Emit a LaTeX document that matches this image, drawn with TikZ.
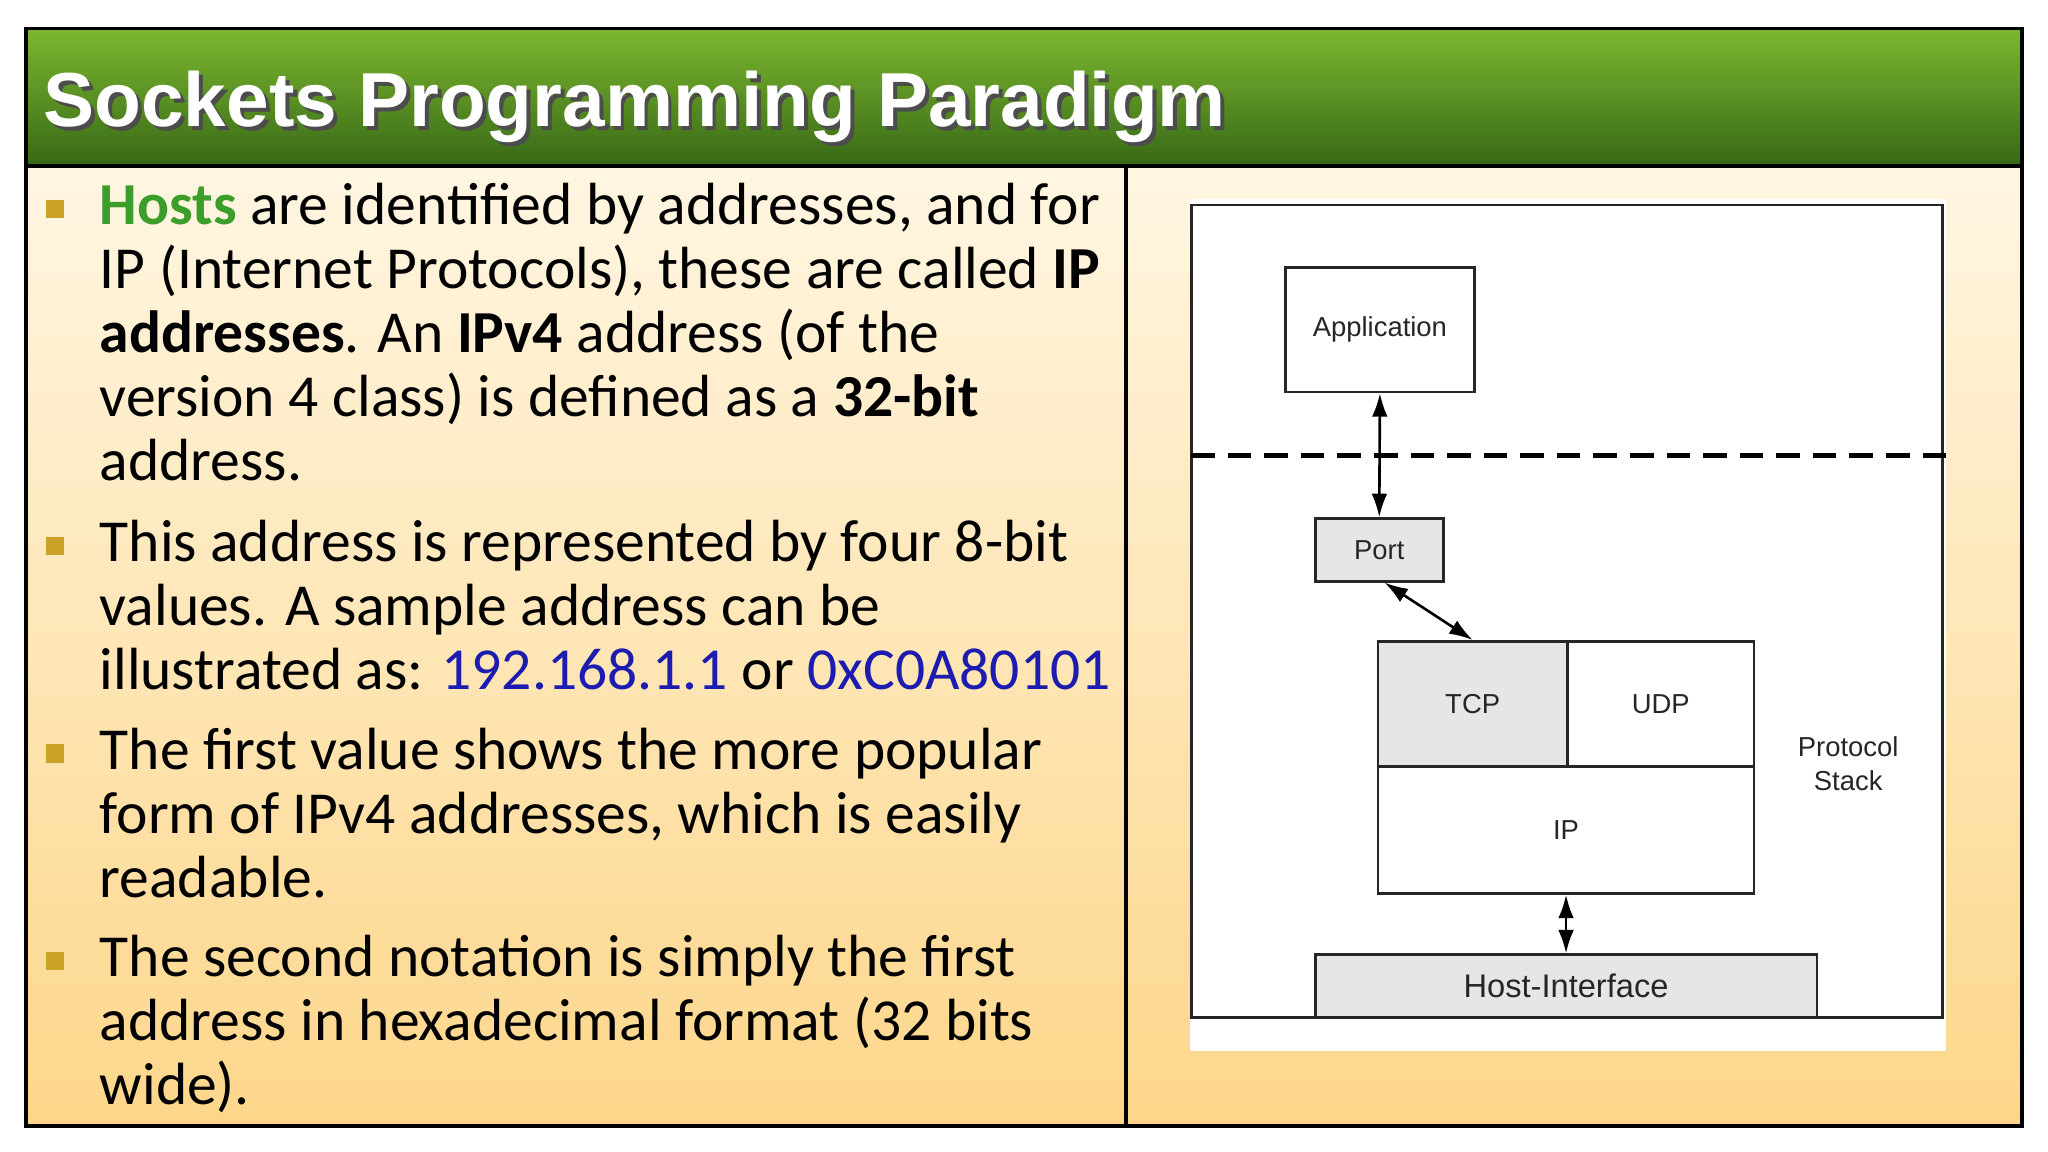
\documentclass[tikz,border=0pt]{standalone}
\usepackage{fontspec}
\setmainfont{Carlito}
\newfontfamily\arialf{Liberation Sans}
\usetikzlibrary{arrows.meta}
\definecolor{hgreen}{HTML}{3C9E2A}
\definecolor{hblue}{HTML}{1C1CB0}
\definecolor{bulc}{HTML}{C9A227}
\definecolor{boxg}{HTML}{E6E6E8}
\tikzset{
 txt/.style={anchor=base west,inner sep=0pt,font=\fontsize{22.8}{26}\selectfont},
 bul/.style={fill=bulc,minimum size=7pt,inner sep=0pt},
 dbox/.style={draw=black!85,line width=1pt},
 lab/.style={font=\arialf\fontsize{10.5}{12}\selectfont,text=black!85},
 arr/.style={{Latex[length=9pt,width=6pt]}-{Latex[length=9pt,width=6pt]},line width=1pt}
}
\begin{document}
\begin{tikzpicture}[x=0.5pt,y=-0.5pt]
\useasboundingbox (0,0) rectangle (1568,882);
\fill[white] (0,0) rectangle (1568,882);
% title bar
\shade[top color={rgb,255:red,124;green,184;blue,48},bottom color={rgb,255:red,56;green,104;blue,22}] (20,22) rectangle (1548,127);
\shade[top color={rgb,255:red,255;green,246;blue,226},bottom color={rgb,255:red,253;green,214;blue,138}] (20,127) rectangle (1548,862);
\draw[line width=1.3pt] (20,22) rectangle (1548,862);
\draw[line width=1.3pt] (20,127) -- (1548,127);
\draw[line width=1.3pt] (862,127) -- (862,862);
\node[anchor=base west,inner sep=0pt,font=\arialf\bfseries\fontsize{29.3}{32}\selectfont,text=black!70] (tsh) at (36,100) {Sockets Programming Paradigm};
\node[anchor=base west,inner sep=0pt,font=\arialf\bfseries\fontsize{29.3}{32}\selectfont,text=white] (title) at (33,97) {Sockets Programming Paradigm};
% bullets
\node[bul] (b1) at (42,160) {};
\node[bul] (b2) at (42,418) {};
\node[bul] (b3) at (42,577) {};
\node[bul] (b4) at (42,736) {};
\node[txt] (l1) at (76,172) {\textcolor{hgreen}{\textbf{Hosts}} are identified by addresses, and for};
\node[txt] (l2) at (76,221) {IP (Internet Protocols), these are called \textbf{IP}};
\node[txt] (l3) at (76,270) {\textbf{addresses}. An \textbf{IPv4} address (of the};
\node[txt] (l4) at (76,319) {version 4 class) is defined as a \textbf{32-bit}};
\node[txt] (l5) at (76,368) {address.};
\node[txt] (l6) at (76,430) {This address is represented by four 8-bit};
\node[txt] (l7) at (76,479) {values. A sample address can be};
\node[txt] (l8) at (76,528) {illustrated as: \textcolor{hblue}{192.168.1.1} or \textcolor{hblue}{0xC0A80101}};
\node[txt] (l9) at (76,589) {The first value shows the more popular};
\node[txt] (l10) at (76,638) {form of IPv4 addresses, which is easily};
\node[txt] (l11) at (76,687) {readable.};
\node[txt] (l12) at (76,748) {The second notation is simply the first};
\node[txt] (l13) at (76,797) {address in hexadecimal format (32 bits};
\node[txt] (l14) at (76,846) {wide).};
% diagram
\fill[white] (911,152) rectangle (1490,805);
\draw[dbox] (912,157) rectangle (1487,779);
\draw[line width=2pt,dash pattern=on 9pt off 5pt] (912,349) -- (1490,349);
\node[dbox,fill=white,minimum width=72.5pt,minimum height=47.5pt,lab] (app) at (1056.5,252.5) {Application};
\node[dbox,fill=boxg,minimum width=49pt,minimum height=24pt,lab] (port) at (1056,421) {Port};
\node[dbox,fill=boxg,minimum width=72.5pt,minimum height=48pt,lab] (tcp) at (1127.5,539) {TCP};
\node[dbox,fill=white,minimum width=71.5pt,minimum height=48pt,lab] (udp) at (1271.5,539) {UDP};
\node[dbox,fill=white,minimum width=144pt,minimum height=48.5pt,lab] (ip) at (1199,635.5) {IP};
\node[dbox,fill=boxg,minimum width=192pt,minimum height=24pt,font=\arialf\fontsize{12.5}{14}\selectfont,text=black!85] (host) at (1199,755) {Host-Interface};
\node[lab,align=center] (ps) at (1415,585) {Protocol\\[1pt]Stack};
\draw[arr] (app.south) -- (port.north);
\draw[arr] ([xshift=2pt]port.south) -- (tcp.north);
\draw[arr] (ip.south) -- (host.north);
\end{tikzpicture}
\end{document}
